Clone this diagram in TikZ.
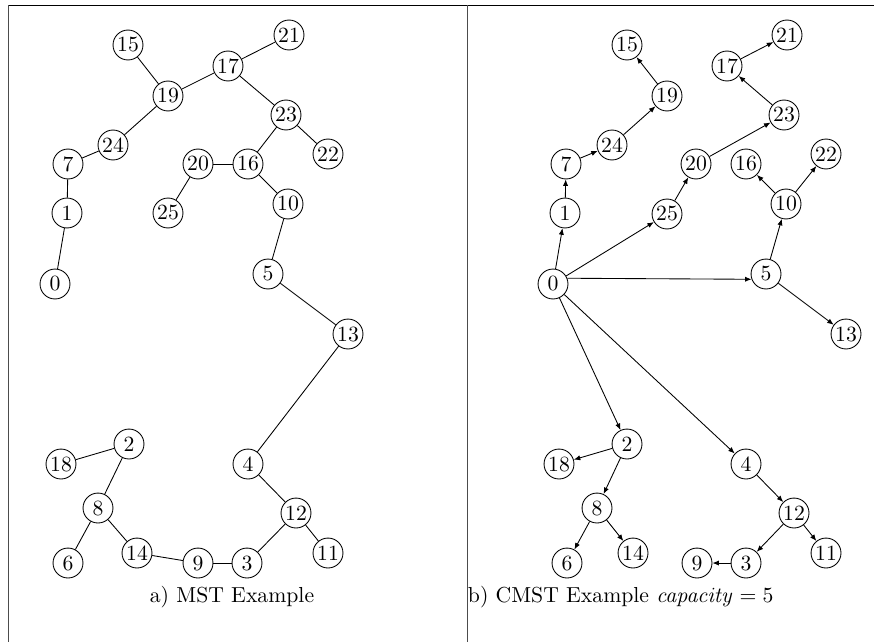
\documentclass[tikz,border=0pt]{standalone}
\usetikzlibrary{arrows.meta}
\tikzset{
  vtx/.style={circle, draw, line width=0.4pt, minimum size=13.8pt, inner sep=0.5pt},
  edge/.style={line width=0.4pt},
  arc/.style={line width=0.4pt, -{Latex[length=3pt,width=2.4pt]}},
  frame/.style={line width=0.45pt},
}
\begin{document}
\begin{tikzpicture}[x=0.4608pt, y=-0.4608pt]
\useasboundingbox (0,0) rectangle (874,642);
% table rules
\draw[frame] (8,5) coordinate (tl) -- (874,5) coordinate (tr);
\draw[frame, black!70] (8.7,5) coordinate (la) -- (8.7,642) coordinate (lb);
\draw[frame, black!70] (467.5,5) coordinate (ma) -- (467.5,642) coordinate (mb);

% ---------- a) minimum spanning tree ----------
\begin{scope}
\node[vtx] (a15) at (128,45) {15};
\node[vtx] (a21) at (289,35) {21};
\node[vtx] (a17) at (228,66) {17};
\node[vtx] (a19) at (168,96) {19};
\node[vtx] (a23) at (286,115) {23};
\node[vtx] (a24) at (113,145) {24};
\node[vtx] (a22) at (328,154) {22};
\node[vtx] (a7)  at (68,164) {7};
\node[vtx] (a20) at (198,164) {20};
\node[vtx] (a16) at (248,164) {16};
\node[vtx] (a10) at (288,204) {10};
\node[vtx] (a1)  at (67,213) {1};
\node[vtx] (a25) at (168,213) {25};
\node[vtx] (a0)  at (55,284) {0};
\node[vtx] (a5)  at (268,274) {5};
\node[vtx] (a13) at (348,334) {13};
\node[vtx] (a2)  at (129,444) {2};
\node[vtx] (a18) at (61,464) {18};
\node[vtx] (a4)  at (248,464) {4};
\node[vtx] (a8)  at (98,508) {8};
\node[vtx] (a12) at (296,513) {12};
\node[vtx] (a6)  at (68,563) {6};
\node[vtx] (a14) at (137,553) {14};
\node[vtx] (a9)  at (198,563) {9};
\node[vtx] (a3)  at (247,563) {3};
\node[vtx] (a11) at (328,553) {11};
\foreach \u/\v in {15/19,19/17,17/21,17/23,23/22,23/16,16/20,20/25,16/10,10/5,
                   5/13,13/4,4/12,12/11,12/3,3/9,9/14,14/8,8/6,8/2,2/18,
                   19/24,24/7,7/1,1/0}
  \draw[edge] (a\u) -- (a\v);
\node[inner sep=0pt] (capa) at (232,597) {a) MST Example};
\end{scope}

% ---------- b) capacitated spanning tree ----------
\begin{scope}
\node[vtx] (b15) at (627,45) {15};
\node[vtx] (b21) at (787,35) {21};
\node[vtx] (b17) at (727,66) {17};
\node[vtx] (b19) at (667,96) {19};
\node[vtx] (b23) at (784,115) {23};
\node[vtx] (b24) at (612,145) {24};
\node[vtx] (b22) at (826,154) {22};
\node[vtx] (b7)  at (566,164) {7};
\node[vtx] (b20) at (696,164) {20};
\node[vtx] (b16) at (746,164) {16};
\node[vtx] (b10) at (786,204) {10};
\node[vtx] (b1)  at (565,213) {1};
\node[vtx] (b25) at (667,214) {25};
\node[vtx] (b0)  at (553,284) {0};
\node[vtx] (b5)  at (766,274) {5};
\node[vtx] (b13) at (846,334) {13};
\node[vtx] (b2)  at (627,444) {2};
\node[vtx] (b18) at (559,464) {18};
\node[vtx] (b4)  at (746,464) {4};
\node[vtx] (b8)  at (597,508) {8};
\node[vtx] (b12) at (794,513) {12};
\node[vtx] (b6)  at (567,563) {6};
\node[vtx] (b14) at (633,553) {14};
\node[vtx] (b9)  at (697,563) {9};
\node[vtx] (b3)  at (746,563) {3};
\node[vtx] (b11) at (826,553) {11};
\foreach \u/\v in {0/1,1/7,7/24,24/19,19/15,0/25,25/20,20/23,23/17,17/21,
                   5/10,10/16,10/22,5/13,0/2,2/18,2/8,8/6,8/14,
                   0/4,4/12,12/3,3/9,12/11}
  \draw[arc] (b\u) -- (b\v);
% the trunk from the root to 5 runs level
\draw[arc] (b0.22) -- (b5.200);
\node[inner sep=0pt, anchor=west] (capb) at (467.5,597) {b) CMST Example $\mathit{capacity} = 5$};
\end{scope}
\end{tikzpicture}
\end{document}
